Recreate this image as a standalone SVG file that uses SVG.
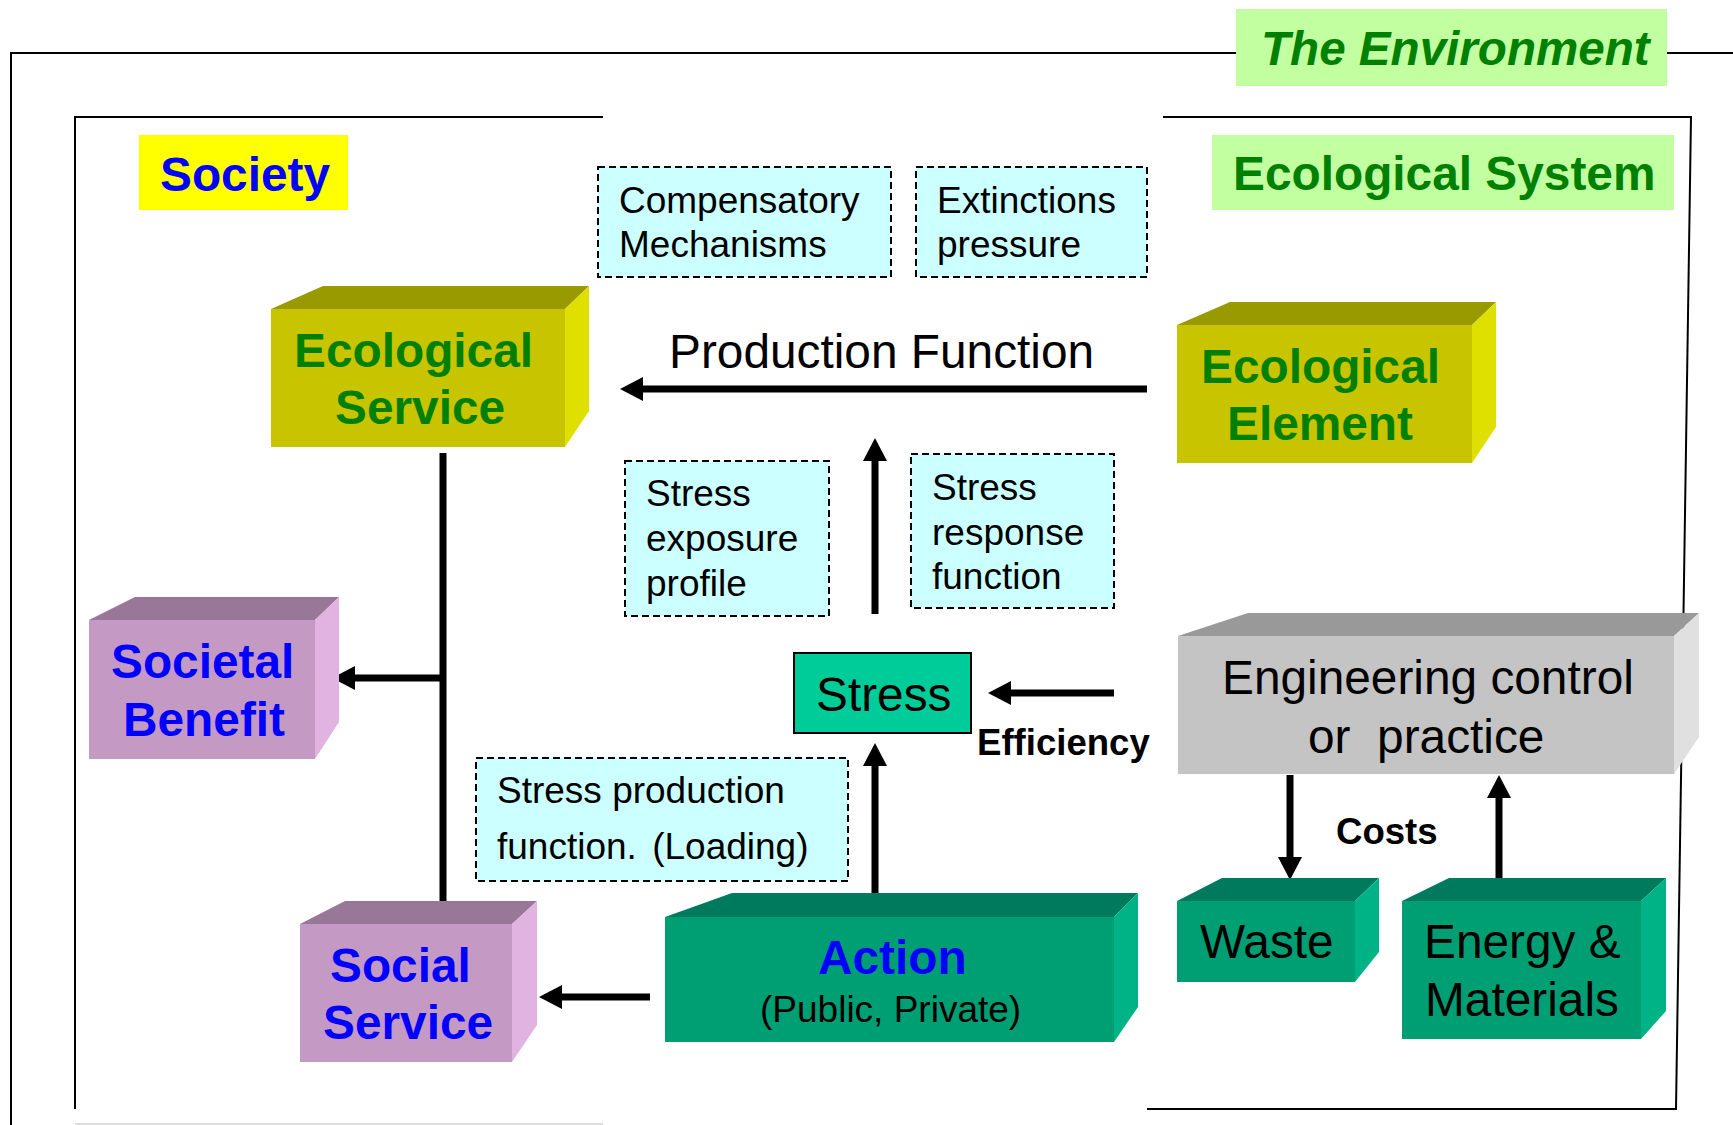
<svg xmlns="http://www.w3.org/2000/svg" width="1733" height="1125" viewBox="0 0 1733 1125">
<style>
text{font-family:"Liberation Sans",Arial,sans-serif;}
.b{font-weight:bold;}
.big{font-size:47.8px;}
.sm{font-size:37px;}
.blue{fill:#0000FF;}
.green{fill:#008000;}
.blk{fill:#000000;}
.frame{fill:none;stroke:#000;stroke-width:2;}
.note{fill:#CCFFFF;stroke:#000;stroke-width:2;stroke-dasharray:7 4;}
.conn{stroke:#000;stroke-width:7;fill:none;}
.olF{fill:#C8C400;}.olT{fill:#999900;}.olR{fill:#E0E000;}
.mvF{fill:#C49AC4;}.mvT{fill:#997799;}.mvR{fill:#E0B3E0;}
.tlF{fill:#009E73;}.tlT{fill:#007A5C;}.tlR{fill:#00B386;}
.gyF{fill:#C4C4C4;}.gyT{fill:#999999;}.gyR{fill:#E0E0E0;}
</style>
<defs>
<marker id="ah" markerUnits="userSpaceOnUse" markerWidth="24" markerHeight="26" refX="0" refY="12" orient="auto">
<path d="M0,0 L23,12 L0,24 z" fill="#000"/>
</marker>
</defs>
<rect width="1733" height="1125" fill="#fff"/>

<g id="frames">
<path class="frame" d="M1236,53 H11 V1125 M1667,53 H1733"/>
<path class="frame" d="M603,117 H75 V1109"/>
<line x1="75" y1="1124" x2="603" y2="1124" stroke="#ddd" stroke-width="2"/>
<path class="frame" d="M1163,117 H1691 L1676,1109 H1147"/>
</g>

<g id="environment-label">
<rect x="1236" y="9" width="431" height="77" fill="#C1FFA0"/>
<text x="1261" y="65" class="b green" font-size="47.6" font-style="italic">The Environment</text>
</g>
<g id="society-label">
<rect x="139" y="135" width="209" height="75" fill="#FFFF00"/>
<text x="160" y="191" class="b big blue">Society</text>
</g>
<g id="ecosystem-label">
<rect x="1212" y="135" width="462" height="75" fill="#C1FFA0"/>
<text x="1233" y="190" class="b big green">Ecological System</text>
</g>

<g id="connectors">
<line class="conn" x1="1147" y1="389" x2="643" y2="389" marker-end="url(#ah)"/>
<line class="conn" x1="875" y1="614" x2="875" y2="461" marker-end="url(#ah)"/>
<line class="conn" x1="875" y1="901" x2="875" y2="766" marker-end="url(#ah)"/>
<line class="conn" x1="1114" y1="693" x2="1011" y2="693" marker-end="url(#ah)"/>
<line class="conn" x1="1290" y1="775" x2="1290" y2="857" marker-end="url(#ah)"/>
<line class="conn" x1="1499" y1="878" x2="1499" y2="798" marker-end="url(#ah)"/>
<line class="conn" x1="650" y1="997" x2="562" y2="997" marker-end="url(#ah)"/>
<line class="conn" x1="443" y1="453" x2="443" y2="917"/>
<line class="conn" x1="446" y1="678" x2="355" y2="678" marker-end="url(#ah)"/>
</g>

<g id="compensatory">
<rect class="note" x="598" y="167" width="293" height="110"/>
<text x="619" y="213" class="sm blk">Compensatory</text>
<text x="619" y="257" class="sm blk">Mechanisms</text>
</g>
<g id="extinctions">
<rect class="note" x="916" y="167" width="231" height="110"/>
<text x="937" y="213" class="sm blk">Extinctions</text>
<text x="937" y="257" class="sm blk">pressure</text>
</g>
<g id="exposure">
<rect class="note" x="625" y="461" width="204" height="155"/>
<text x="646" y="506" class="sm blk">Stress</text>
<text x="646" y="551" class="sm blk">exposure</text>
<text x="646" y="596" class="sm blk">profile</text>
</g>
<g id="response">
<rect class="note" x="911" y="454" width="203" height="154"/>
<text x="932" y="500" class="sm blk">Stress</text>
<text x="932" y="545" class="sm blk">response</text>
<text x="932" y="589" class="sm blk">function</text>
</g>
<g id="production">
<rect class="note" x="476" y="758" width="372" height="123"/>
<text x="497" y="803" class="sm blk">Stress production</text>
<text x="497" y="859" class="sm blk">function.<tspan dx="5"> (Loading)</tspan></text>
</g>

<g id="production-function-label">
<text x="669" y="368" class="big blk">Production Function</text>
</g>
<g id="efficiency-label">
<text x="977" y="755" class="b blk" font-size="36.6">Efficiency</text>
</g>
<g id="costs-label">
<text x="1336" y="844" class="b blk" font-size="36.6">Costs</text>
</g>

<g id="ecological-service">
<polygon class="olT" points="271,309 323,286 589,286 565,309"/>
<polygon class="olR" points="565,309 589,286 589,411 565,447"/>
<rect class="olF" x="271" y="309" width="294" height="138"/>
<text x="294" y="367" class="b big green">Ecological</text>
<text x="335" y="424" class="b big green">Service</text>
</g>

<g id="ecological-element">
<polygon class="olT" points="1177,325 1230,302 1496,302 1472,325"/>
<polygon class="olR" points="1472,325 1496,302 1496,427 1472,463"/>
<rect class="olF" x="1177" y="325" width="295" height="138"/>
<text x="1201" y="383" class="b big green">Ecological</text>
<text x="1227" y="440" class="b big green">Element</text>
</g>

<g id="societal-benefit">
<polygon class="mvT" points="89,620 135,597 339,597 315,620"/>
<polygon class="mvR" points="315,620 339,597 339,722 315,759"/>
<rect class="mvF" x="89" y="620" width="226" height="139"/>
<text x="111" y="678" class="b big blue">Societal</text>
<text x="123" y="736" class="b big blue">Benefit</text>
</g>

<g id="social-service">
<polygon class="mvT" points="300,924 345,901 537,901 512,924"/>
<polygon class="mvR" points="512,924 537,901 537,1025 512,1062"/>
<rect class="mvF" x="300" y="924" width="212" height="138"/>
<text x="330" y="982" class="b big blue">Social</text>
<text x="323" y="1039" class="b big blue">Service</text>
</g>

<g id="stress">
<rect x="794" y="653" width="177" height="80" fill="#00CC99" stroke="#000" stroke-width="2"/>
<text x="816" y="711" class="big blk">Stress</text>
</g>

<g id="action">
<polygon class="tlT" points="665,917 732,893 1138,893 1114,917"/>
<polygon class="tlR" points="1114,917 1138,893 1138,1007 1114,1042"/>
<rect class="tlF" x="665" y="917" width="449" height="125"/>
<text x="818" y="974" class="b big blue">Action</text>
<text x="760" y="1022" class="blk" font-size="37">(Public, Private)</text>
</g>

<g id="engineering">
<polygon class="gyT" points="1178,636 1248,613 1699,613 1674,636"/>
<polygon class="gyR" points="1674,636 1699,613 1699,737 1674,774"/>
<rect class="gyF" x="1178" y="636" width="496" height="138"/>
<text x="1222" y="694" class="big blk">Engineering control</text>
<text x="1308" y="753" class="big blk" xml:space="preserve">or  practice</text>
</g>

<g id="waste">
<polygon class="tlT" points="1177,901 1222,878 1379,878 1355,901"/>
<polygon class="tlR" points="1355,901 1379,878 1379,952 1355,982"/>
<rect class="tlF" x="1177" y="901" width="178" height="81"/>
<text x="1200" y="958" class="big blk">Waste</text>
</g>

<g id="energy-materials">
<polygon class="tlT" points="1402,901 1449,878 1666,878 1641,901"/>
<polygon class="tlR" points="1641,901 1666,878 1666,1011 1641,1039"/>
<rect class="tlF" x="1402" y="901" width="239" height="138"/>
<text x="1424" y="958" class="big blk">Energy &amp;</text>
<text x="1425" y="1016" class="big blk">Materials</text>
</g>
</svg>
